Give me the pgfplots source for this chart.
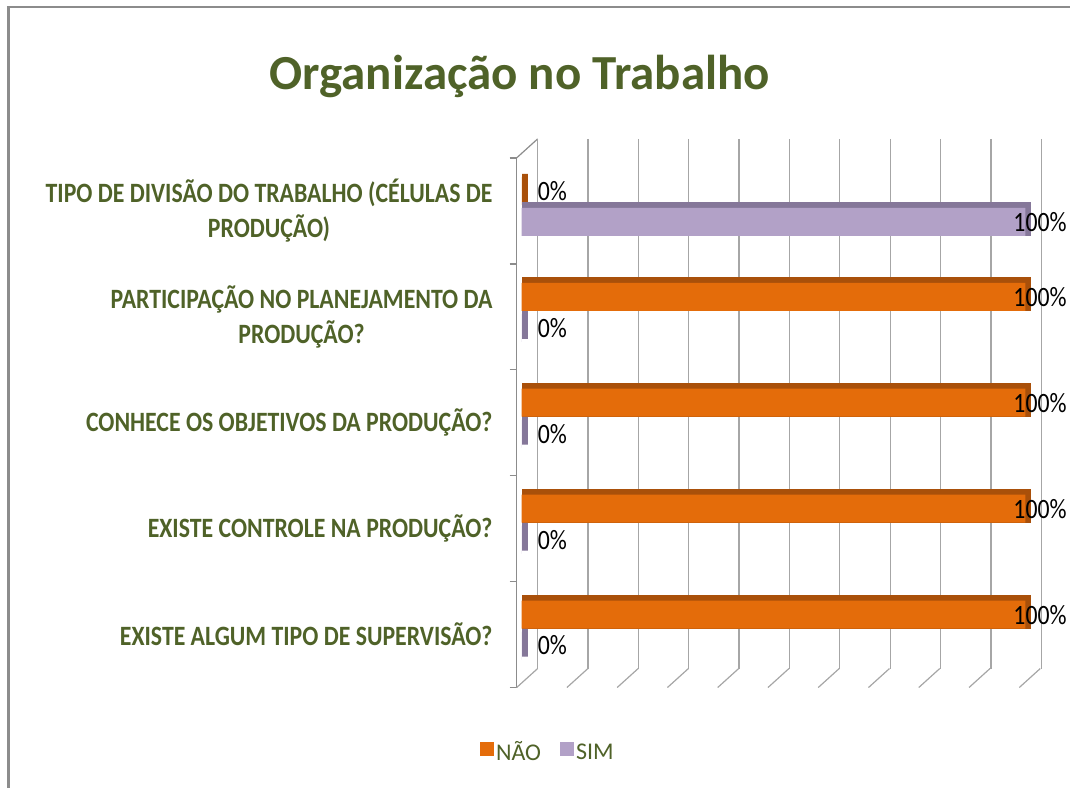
\documentclass[border=0pt]{standalone}
\usepackage{pgfplots}
\pgfplotsset{compat=1.18}
\usepackage{pgfplotstable}
\usepackage{fontspec}
\setmainfont{Carlito}
\newfontfamily\cond[FakeStretch=0.85]{Carlito}

\definecolor{olive}{HTML}{4F6228}
\definecolor{naoc}{HTML}{E46C0A}
\definecolor{naod}{HTML}{A9500A}
\definecolor{simc}{HTML}{B2A1C7}
\definecolor{simd}{HTML}{857799}
\definecolor{gridc}{HTML}{A6A6A6}
\definecolor{wallc}{HTML}{8C8C8C}

% cat: 0 = top row ... 4 = bottom row
\pgfplotstableread{
cat nao sim
0   0   100
1   100 0
2   100 0
3   100 0
4   100 0
}\datatable

\begin{document}
\begin{tikzpicture}
\path (0pt,0pt) rectangle (1071pt,-789pt);
% slide frame
\draw[wallc, line width=3pt] (8.5pt,-7pt) -- (8.5pt,-789pt);
\draw[wallc, line width=1.5pt] (7pt,-7pt) -- (1071pt,-7pt);

\node[font=\bfseries\fontsize{49}{52}\selectfont, text=olive] at (520pt,-77pt) {Organização no Trabalho};

% 3d walls: front plane x0=517, back plane x0=538
\draw[wallc, line width=1.5pt] (517pt,-158pt) -- (517pt,-688pt);
\draw[wallc, line width=1.2pt] (517pt,-158pt) -- (538pt,-139pt);
\foreach \k in {0,...,5}
  \draw[wallc, line width=1.5pt] (510pt,{-(158+106*\k)*1pt}) -- (517pt,{-(158+106*\k)*1pt});
\foreach \t in {0,...,10}
  \draw[gridc, line width=1.2pt] ({(517+50.3*\t)*1pt},-688pt) -- ({(538+50.3*\t)*1pt},-669pt);

\begin{axis}[at={(522pt,-153pt)}, anchor=north west, scale only axis,
  width=504pt, height=530pt,
  xmin=0, xmax=100, ymin=-0.5, ymax=4.5, y dir=reverse, clip=false,
  axis line style={draw=none}, tick style={draw=none},
  xtick={0,10,...,100}, xticklabels={},
  xmajorgrids, major grid style={gridc, line width=1.2pt, xshift=16pt, yshift=14pt},
  ytick={0,1,2,3,4},
  yticklabels={{TIPO DE DIVISÃO DO TRABALHO (CÉLULAS DE\\PRODUÇÃO)},
    {PARTICIPAÇÃO NO PLANEJAMENTO DA\\PRODUÇÃO?},
    {CONHECE OS OBJETIVOS DA PRODUÇÃO?},
    {EXISTE CONTROLE NA PRODUÇÃO?},
    {EXISTE ALGUM TIPO DE SUPERVISÃO?}},
  yticklabel style={anchor=east, align=center, inner sep=0pt, xshift=-29pt, yshift=-5pt,
    font=\cond\bfseries\fontsize{28}{35}\selectfont, text=olive},
  legend style={at={(axis description cs:0.052,-0.13)}, anchor=center, draw=none,
    legend columns=2, font=\fontsize{24}{26}\selectfont, text=olive,
    /tikz/every even column/.append style={column sep=17pt}},
  every node near coord/.append style={anchor=west, inner sep=0pt,
    xshift={(16-0.28*\pgfplotspointmeta)*1pt}, font=\cond\fontsize{28}{30}\selectfont, text=black},
]
% depth faces
\addplot[xbar, bar width=28pt, bar shift=15pt, fill=naod, draw=naod, line width=6pt,
  xshift=3pt, yshift=3pt, forget plot] table[x=nao, y=cat] {\datatable};
\addplot[xbar, bar width=28pt, bar shift=-16pt, fill=simd, draw=simd, line width=6pt,
  xshift=3pt, yshift=3pt, forget plot] table[x=sim, y=cat] {\datatable};
% front faces
\addplot[xbar, bar width=28pt, bar shift=15pt, fill=naoc, draw=none,
  legend image code/.code={\fill[naoc] (0pt,-4.5pt) rectangle (14pt,9.5pt);},
  point meta=explicit symbolic,
  every node near coord/.append style={yshift=15pt},
  nodes near coords={\pgfplotspointmeta\%}] table[x=nao, y=cat, meta=nao] {\datatable};
\addlegendentry{\strut NÃO}
\addplot[xbar, bar width=28pt, bar shift=-16pt, fill=simc, draw=none,
  legend image code/.code={\fill[simc] (0pt,-4.5pt) rectangle (14pt,9.5pt);},
  point meta=explicit symbolic,
  every node near coord/.append style={yshift=-16pt},
  nodes near coords={\pgfplotspointmeta\%}] table[x=sim, y=cat, meta=sim] {\datatable};
\addlegendentry{\strut SIM}
\end{axis}
\end{tikzpicture}
\end{document}
